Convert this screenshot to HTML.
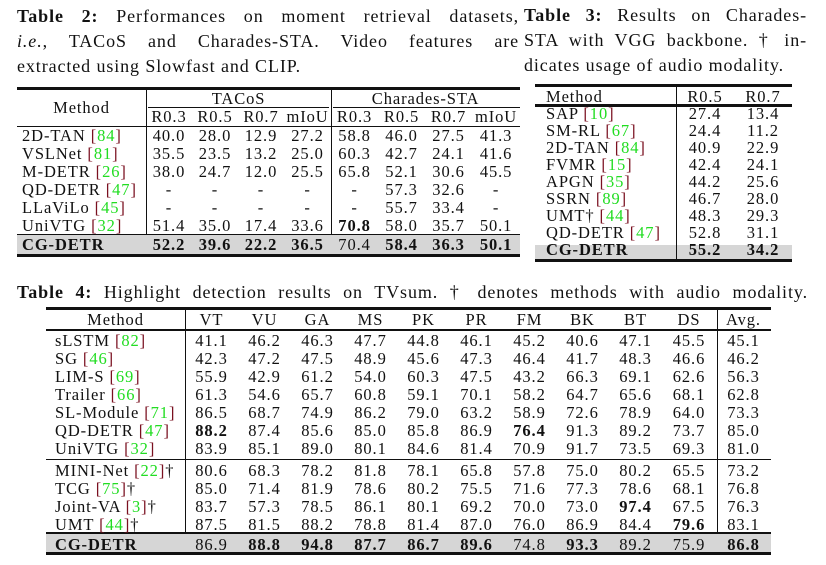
<!DOCTYPE html>
<html><head><meta charset="utf-8"><style>
body{margin:0;background:#fff;width:826px;height:565px;position:relative;overflow:hidden;font-family:"Liberation Serif","DejaVu Serif",serif;color:#111}
.a{position:absolute}
.cap{font-size:18px;line-height:25px;white-space:nowrap;letter-spacing:0.9px}
.j{text-align:justify;text-align-last:justify;white-space:normal}
.l{position:absolute;background:#111}
table{position:absolute;border-collapse:collapse;table-layout:fixed;font-size:16.5px;letter-spacing:0.9px;line-height:17px}
td{padding:0;text-align:center;white-space:nowrap;overflow:visible}
td.m{text-align:left;padding-left:5px}
.g{color:#22dd22}.b{color:#7a1020}
.gray{position:absolute;background:#d6d6d6}
</style></head><body>

<div class="a cap j" style="left:17px;top:4px;width:502px"><b>Table 2:</b> Performances on moment retrieval datasets,</div>
<div class="a cap j" style="left:17px;top:29px;width:502px"><i>i.e.</i>, TACoS and Charades-STA. Video features are</div>
<div class="a cap" style="left:17px;top:54px">extracted using Slowfast and CLIP.</div>

<div class="gray" style="left:17px;top:235px;width:503px;height:19px"></div>
<div class="l" style="left:17px;top:87px;width:503px;height:3px"></div>
<div class="l" style="left:148px;top:107px;width:181px;height:1px"></div>
<div class="l" style="left:333px;top:107px;width:187px;height:1px"></div>
<div class="l" style="left:17px;top:126px;width:503px;height:1px"></div>
<div class="l" style="left:17px;top:234px;width:503px;height:1px"></div>
<div class="l" style="left:17px;top:254px;width:503px;height:3px"></div>
<div class="l" style="left:146px;top:89px;width:1px;height:145px"></div>
<div class="l" style="left:331px;top:89px;width:1px;height:145px"></div>

<table style="left:17px;top:89px;width:503px">
<colgroup><col style="width:129px"><col style="width:46px"><col style="width:46px"><col style="width:46px"><col style="width:47px"><col style="width:47px"><col style="width:47px"><col style="width:47px"><col style="width:48px"></colgroup>
<tr style="height:18px"><td rowspan="2">Method</td><td colspan="4">TACoS</td><td colspan="4">Charades-STA</td></tr>
<tr style="height:19px"><td>R0.3</td><td>R0.5</td><td>R0.7</td><td>mIoU</td><td>R0.3</td><td>R0.5</td><td>R0.7</td><td>mIoU</td></tr>
<tr style="height:18px"><td class="m">2D-TAN <span class="b">[</span><span class="g">84</span><span class="b">]</span></td><td>40.0</td><td>28.0</td><td>12.9</td><td>27.2</td><td>58.8</td><td>46.0</td><td>27.5</td><td>41.3</td></tr>
<tr style="height:18px"><td class="m">VSLNet <span class="b">[</span><span class="g">81</span><span class="b">]</span></td><td>35.5</td><td>23.5</td><td>13.2</td><td>25.0</td><td>60.3</td><td>42.7</td><td>24.1</td><td>41.6</td></tr>
<tr style="height:18px"><td class="m">M-DETR <span class="b">[</span><span class="g">26</span><span class="b">]</span></td><td>38.0</td><td>24.7</td><td>12.0</td><td>25.5</td><td>65.8</td><td>52.1</td><td>30.6</td><td>45.5</td></tr>
<tr style="height:18px"><td class="m">QD-DETR <span class="b">[</span><span class="g">47</span><span class="b">]</span></td><td>-</td><td>-</td><td>-</td><td>-</td><td>-</td><td>57.3</td><td>32.6</td><td>-</td></tr>
<tr style="height:18px"><td class="m">LLaViLo <span class="b">[</span><span class="g">45</span><span class="b">]</span></td><td>-</td><td>-</td><td>-</td><td>-</td><td>-</td><td>55.7</td><td>33.4</td><td>-</td></tr>
<tr style="height:18px"><td class="m">UniVTG <span class="b">[</span><span class="g">32</span><span class="b">]</span></td><td>51.4</td><td>35.0</td><td>17.4</td><td>33.6</td><td><b>70.8</b></td><td>58.0</td><td>35.7</td><td>50.1</td></tr>
<tr style="height:20px"><td class="m"><b>CG-DETR</b></td><td><b>52.2</b></td><td><b>39.6</b></td><td><b>22.2</b></td><td><b>36.5</b></td><td>70.4</td><td><b>58.4</b></td><td><b>36.3</b></td><td><b>50.1</b></td></tr>
</table>

<div class="a cap j" style="left:524px;top:3px;width:283px"><b>Table 3:</b> Results on Charades-</div>
<div class="a cap j" style="left:524px;top:28px;width:283px">STA with VGG backbone. † in-</div>
<div class="a cap" style="left:524px;top:53px">dicates usage of audio modality.</div>

<div class="gray" style="left:535px;top:245px;width:257px;height:14px"></div>
<div class="l" style="left:535px;top:84px;width:257px;height:3px"></div>
<div class="l" style="left:535px;top:104px;width:257px;height:3px"></div>
<div class="l" style="left:535px;top:259px;width:257px;height:3px"></div>
<div class="l" style="left:676px;top:87px;width:1px;height:172px"></div>

<table style="left:535px;top:88px;width:257px;line-height:16px">
<colgroup><col style="width:141px"><col style="width:58px"><col style="width:58px"></colgroup>
<tr style="height:17px"><td class="m" style="padding-left:11px">Method</td><td>R0.5</td><td>R0.7</td></tr>
<tr style="height:17px"><td class="m" style="padding-left:11px">SAP <span class="b">[</span><span class="g">10</span><span class="b">]</span></td><td>27.4</td><td>13.4</td></tr>
<tr style="height:17px"><td class="m" style="padding-left:11px">SM-RL <span class="b">[</span><span class="g">67</span><span class="b">]</span></td><td>24.4</td><td>11.2</td></tr>
<tr style="height:17px"><td class="m" style="padding-left:11px">2D-TAN <span class="b">[</span><span class="g">84</span><span class="b">]</span></td><td>40.9</td><td>22.9</td></tr>
<tr style="height:17px"><td class="m" style="padding-left:11px">FVMR <span class="b">[</span><span class="g">15</span><span class="b">]</span></td><td>42.4</td><td>24.1</td></tr>
<tr style="height:17px"><td class="m" style="padding-left:11px">APGN <span class="b">[</span><span class="g">35</span><span class="b">]</span></td><td>44.2</td><td>25.6</td></tr>
<tr style="height:17px"><td class="m" style="padding-left:11px">SSRN <span class="b">[</span><span class="g">89</span><span class="b">]</span></td><td>46.7</td><td>28.0</td></tr>
<tr style="height:17px"><td class="m" style="padding-left:11px">UMT† <span class="b">[</span><span class="g">44</span><span class="b">]</span></td><td>48.3</td><td>29.3</td></tr>
<tr style="height:17px"><td class="m" style="padding-left:11px">QD-DETR <span class="b">[</span><span class="g">47</span><span class="b">]</span></td><td>52.8</td><td>31.1</td></tr>
<tr style="height:17px"><td class="m" style="padding-left:11px"><b>CG-DETR</b></td><td><b>55.2</b></td><td><b>34.2</b></td></tr>
</table>

<div class="a cap j" style="left:17px;top:280px;width:791px"><b>Table 4:</b> Highlight detection results on TVsum. † denotes methods with audio modality.</div>

<div class="gray" style="left:46px;top:534px;width:725px;height:18px"></div>
<div class="l" style="left:46px;top:307px;width:725px;height:3px"></div>
<div class="l" style="left:46px;top:329px;width:725px;height:2px"></div>
<div class="l" style="left:46px;top:459px;width:725px;height:1px"></div>
<div class="l" style="left:46px;top:532px;width:725px;height:2px"></div>
<div class="l" style="left:46px;top:552px;width:725px;height:3px"></div>
<div class="l" style="left:185px;top:310px;width:1px;height:222px"></div>
<div class="l" style="left:717px;top:310px;width:1px;height:222px"></div>

<table style="left:46px;top:310px;width:725px">
<colgroup><col style="width:139px"><col style="width:53px"><col style="width:53px"><col style="width:53px"><col style="width:53px"><col style="width:53px"><col style="width:53px"><col style="width:53px"><col style="width:53px"><col style="width:53px"><col style="width:54px"><col style="width:55px"></colgroup>
<tr style="height:19px"><td>Method</td><td>VT</td><td>VU</td><td>GA</td><td>MS</td><td>PK</td><td>PR</td><td>FM</td><td>BK</td><td>BT</td><td>DS</td><td>Avg.</td></tr>
<tr style="height:2px"><td colspan="12"></td></tr>
<tr style="height:18px"><td class="m" style="padding-left:9px">sLSTM <span class="b">[</span><span class="g">82</span><span class="b">]</span></td><td>41.1</td><td>46.2</td><td>46.3</td><td>47.7</td><td>44.8</td><td>46.1</td><td>45.2</td><td>40.6</td><td>47.1</td><td>45.5</td><td>45.1</td></tr>
<tr style="height:18px"><td class="m" style="padding-left:9px">SG <span class="b">[</span><span class="g">46</span><span class="b">]</span></td><td>42.3</td><td>47.2</td><td>47.5</td><td>48.9</td><td>45.6</td><td>47.3</td><td>46.4</td><td>41.7</td><td>48.3</td><td>46.6</td><td>46.2</td></tr>
<tr style="height:18px"><td class="m" style="padding-left:9px">LIM-S <span class="b">[</span><span class="g">69</span><span class="b">]</span></td><td>55.9</td><td>42.9</td><td>61.2</td><td>54.0</td><td>60.3</td><td>47.5</td><td>43.2</td><td>66.3</td><td>69.1</td><td>62.6</td><td>56.3</td></tr>
<tr style="height:18px"><td class="m" style="padding-left:9px">Trailer <span class="b">[</span><span class="g">66</span><span class="b">]</span></td><td>61.3</td><td>54.6</td><td>65.7</td><td>60.8</td><td>59.1</td><td>70.1</td><td>58.2</td><td>64.7</td><td>65.6</td><td>68.1</td><td>62.8</td></tr>
<tr style="height:18px"><td class="m" style="padding-left:9px">SL-Module <span class="b">[</span><span class="g">71</span><span class="b">]</span></td><td>86.5</td><td>68.7</td><td>74.9</td><td>86.2</td><td>79.0</td><td>63.2</td><td>58.9</td><td>72.6</td><td>78.9</td><td>64.0</td><td>73.3</td></tr>
<tr style="height:18px"><td class="m" style="padding-left:9px">QD-DETR <span class="b">[</span><span class="g">47</span><span class="b">]</span></td><td><b>88.2</b></td><td>87.4</td><td>85.6</td><td>85.0</td><td>85.8</td><td>86.9</td><td><b>76.4</b></td><td>91.3</td><td>89.2</td><td>73.7</td><td>85.0</td></tr>
<tr style="height:18px"><td class="m" style="padding-left:9px">UniVTG <span class="b">[</span><span class="g">32</span><span class="b">]</span></td><td>83.9</td><td>85.1</td><td>89.0</td><td>80.1</td><td>84.6</td><td>81.4</td><td>70.9</td><td>91.7</td><td>73.5</td><td>69.3</td><td>81.0</td></tr>
<tr style="height:4px"><td colspan="12"></td></tr>
<tr style="height:18px"><td class="m" style="padding-left:9px">MINI-Net <span class="b">[</span><span class="g">22</span><span class="b">]</span>†</td><td>80.6</td><td>68.3</td><td>78.2</td><td>81.8</td><td>78.1</td><td>65.8</td><td>57.8</td><td>75.0</td><td>80.2</td><td>65.5</td><td>73.2</td></tr>
<tr style="height:18px"><td class="m" style="padding-left:9px">TCG <span class="b">[</span><span class="g">75</span><span class="b">]</span>†</td><td>85.0</td><td>71.4</td><td>81.9</td><td>78.6</td><td>80.2</td><td>75.5</td><td>71.6</td><td>77.3</td><td>78.6</td><td>68.1</td><td>76.8</td></tr>
<tr style="height:18px"><td class="m" style="padding-left:9px">Joint-VA <span class="b">[</span><span class="g">3</span><span class="b">]</span>†</td><td>83.7</td><td>57.3</td><td>78.5</td><td>86.1</td><td>80.1</td><td>69.2</td><td>70.0</td><td>73.0</td><td><b>97.4</b></td><td>67.5</td><td>76.3</td></tr>
<tr style="height:18px"><td class="m" style="padding-left:9px">UMT <span class="b">[</span><span class="g">44</span><span class="b">]</span>†</td><td>87.5</td><td>81.5</td><td>88.2</td><td>78.8</td><td>81.4</td><td>87.0</td><td>76.0</td><td>86.9</td><td>84.4</td><td><b>79.6</b></td><td>83.1</td></tr>
<tr style="height:2px"><td colspan="12"></td></tr>
<tr style="height:18px"><td class="m" style="padding-left:9px"><b>CG-DETR</b></td><td>86.9</td><td><b>88.8</b></td><td><b>94.8</b></td><td><b>87.7</b></td><td><b>86.7</b></td><td><b>89.6</b></td><td>74.8</td><td><b>93.3</b></td><td>89.2</td><td>75.9</td><td><b>86.8</b></td></tr>
</table>

</body></html>
